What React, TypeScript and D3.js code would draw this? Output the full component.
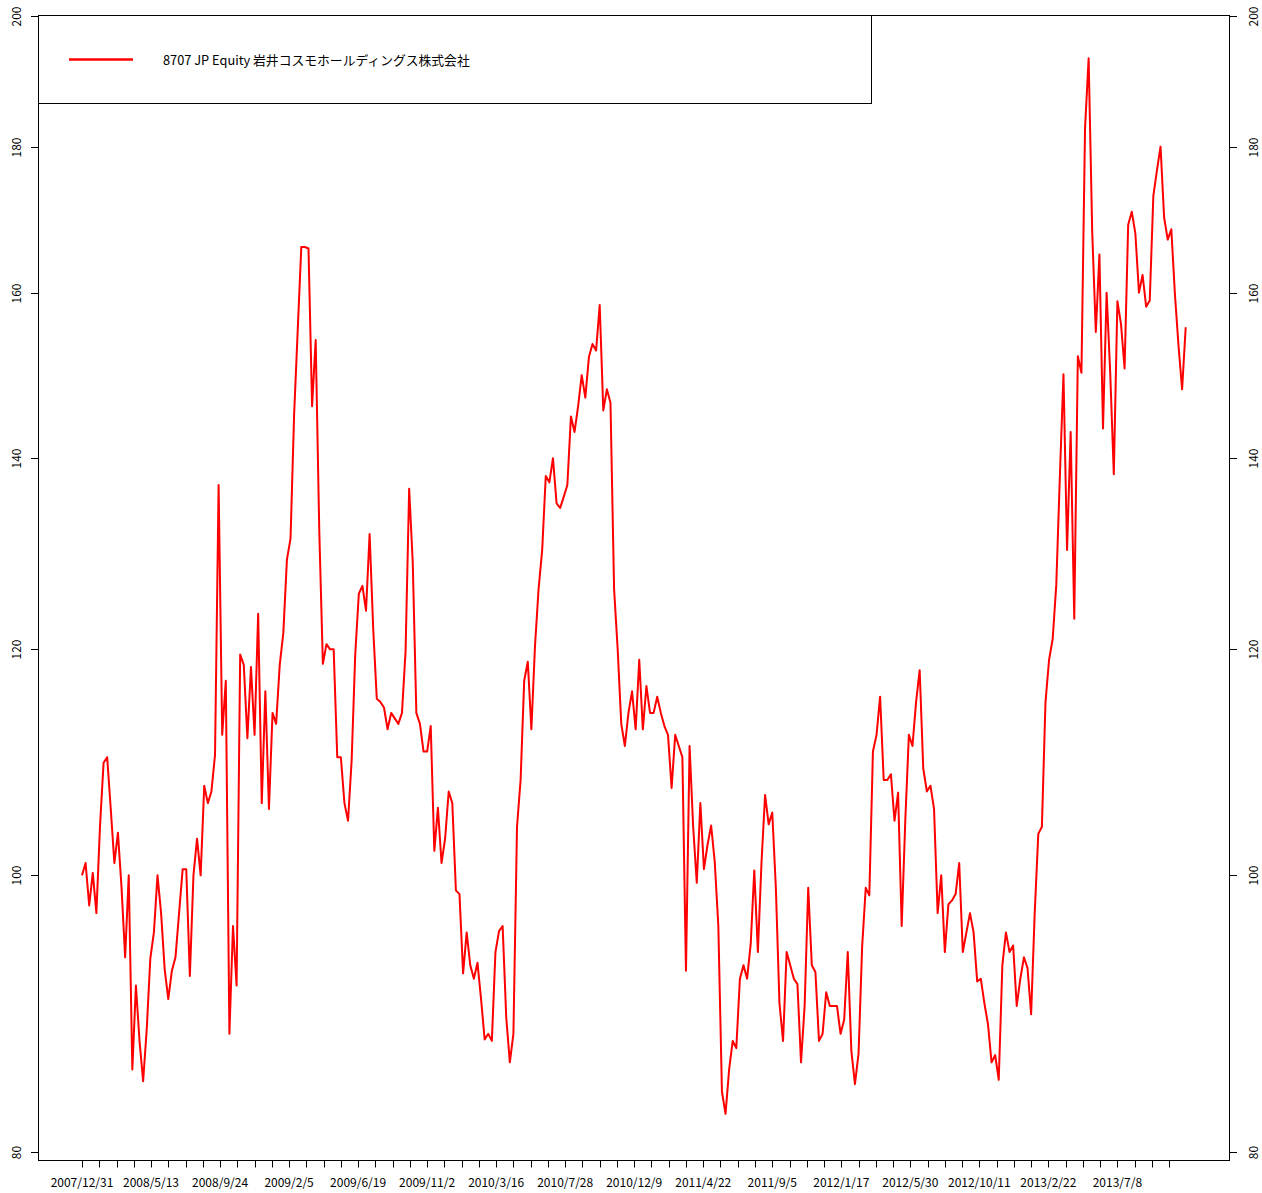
import { scaleLinear, scaleLog, line } from "d3";

// weekly closes (every 5th weekday), indexed from 2007/12/31 = 100
const weeklyClose = [
	100, 101, 97.6, 100.2, 97, 104, 109.5, 110, 105.5, 101,
	103.5, 99, 93.6, 100, 85.5, 91.5, 87.5, 84.7, 88.3, 93.5,
	95.5, 100, 97, 92.7, 90.5, 92.6, 93.6, 97, 100.5, 100.5,
	92.2, 100, 103, 100, 107.5, 106, 107, 110.2, 137, 112,
	117, 88, 96, 91.5, 119.5, 118.5, 111.7, 118.3, 112, 123.5,
	106, 116, 105.5, 114, 113, 118.5, 121.6, 129, 131.2, 145,
	155.2, 166, 166, 165.8, 146, 154, 132, 118.6, 120.5, 120,
	120, 110, 110, 106, 104.5, 109.7, 119.5, 125.5, 126.3, 123.8,
	131.7, 122, 115.3, 115, 114.5, 112.5, 114, 113.5, 113, 114,
	119.8, 136.6, 128.7, 114, 113, 110.5, 110.5, 112.8, 102, 105.6,
	101, 103, 107, 106, 98.8, 98.5, 92.4, 95.5, 93, 92,
	93.2, 90.5, 87.6, 88, 87.5, 94, 95.6, 96, 89.2, 86,
	88, 104, 108, 117, 118.8, 112.5, 120.3, 126, 130, 138,
	137.3, 140, 135, 134.5, 135.7, 137, 144.8, 143, 146, 149.7,
	147, 151.9, 153.5, 152.7, 158.4, 145.5, 148, 146.4, 126, 120,
	113, 111, 114, 116, 112.5, 119, 112.5, 116.5, 114, 114,
	115.5, 114, 112.8, 112, 107.3, 112, 111, 110, 92.6, 111,
	104, 99.4, 106, 100.5, 102.5, 104.1, 101.1, 96, 84, 82.5,
	85.5, 87.5, 87, 92, 93, 92, 94.6, 100.4, 94, 101,
	106.7, 104.2, 105.2, 99, 90.2, 87.5, 94, 93, 92, 91.6,
	86, 90, 99, 93, 92.5, 87.5, 88, 91, 90, 90,
	90, 88, 89, 94, 86.8, 84.5, 86.6, 94.4, 99, 98.4,
	110.5, 112, 115.5, 108, 108, 108.5, 104.5, 106.9, 96, 104.5,
	112, 111, 115, 118, 109, 107, 107.5, 105.5, 97, 100,
	94, 97.7, 98, 98.5, 101, 94, 95.5, 97, 95.5, 91.8,
	92, 90.2, 88.7, 86, 86.5, 84.8, 93, 95.5, 94, 94.5,
	90, 92, 93.6, 92.8, 89.4, 97, 103.4, 104, 115, 119,
	121, 126.4, 138, 149.8, 130, 143, 123, 152, 150, 182.7,
	193.3, 168, 155, 165, 143.4, 160, 150, 138.2, 158.9, 156,
	150.5, 169, 170.8, 167.8, 160, 162.3, 158.2, 159, 173, 176.6,
	180, 170, 167, 168.4, 159.8, 153.3, 148, 155.6,
];
const STEP_DAYS = 5;

const dateLabels = [
	"2007/12/31", "2008/5/13", "2008/9/24", "2009/2/5",
	"2009/6/19", "2009/11/2", "2010/3/16", "2010/7/28",
	"2010/12/9", "2011/4/22", "2011/9/5", "2012/1/17",
	"2012/5/30", "2012/10/11", "2013/2/22", "2013/7/8",
];
const TICK_DAYS = 24;
const TICK_COUNT = 64;
const LABEL_EVERY = 4;

const yTicks = [80, 100, 120, 140, 160, 180, 200];

const seriesName = "8707 JP Equity 岩井コスモホールディングス株式会社";

const W = 1262;
const H = 1193;
const box = { left: 38.5, right: 1229.5, top: 15.5, bottom: 1160.5 };
const font = "'Noto Sans CJK JP', 'Noto Sans', sans-serif";

export default function App() {
	const lastDay = (weeklyClose.length - 1) * STEP_DAYS;
	const x = scaleLinear().domain([0, lastDay]).range([82, 1185.7]);
	const y = scaleLog().domain([80, 200]).range([1152, 16]);

	const path = line<number>()
		.x((_, i) => x(i * STEP_DAYS))
		.y((v) => y(v))(weeklyClose);

	const ticks = Array.from({ length: TICK_COUNT }, (_, k) => k * TICK_DAYS);

	return (
		<svg
			width={W}
			height={H}
			style={{ position: "absolute", left: 0, top: 0, background: "#fff" }}
			fontFamily={font}
		>
			<path d={path ?? ""} fill="none" stroke="#ff0000" strokeWidth={2} strokeLinejoin="round" />

			<rect
				x={box.left}
				y={box.top}
				width={box.right - box.left}
				height={box.bottom - box.top}
				fill="none"
				stroke="#000"
			/>

			{/* bottom axis */}
			{ticks.map((d) => (
				<line key={d} x1={Math.round(x(d)) + 0.5} x2={Math.round(x(d)) + 0.5} y1={box.bottom} y2={box.bottom + 7} stroke="#000" />
			))}
			{dateLabels.map((lab, k) => (
				<text key={lab} x={x(k * LABEL_EVERY * TICK_DAYS)} y={1187} fontSize={12} textAnchor="middle">
					{lab}
				</text>
			))}

			{/* left and right axes */}
			{yTicks.map((v) => {
				const py = Math.round(y(v)) + 0.5;
				return (
					<g key={v}>
						<line x1={31} x2={box.left} y1={py} y2={py} stroke="#000" />
						<line x1={box.right} x2={1237} y1={py} y2={py} stroke="#000" />
						<text transform={`translate(21,${py}) rotate(-90)`} fontSize={12} textAnchor="middle">
							{v}
						</text>
						<text transform={`translate(1258,${py}) rotate(-90)`} fontSize={12} textAnchor="middle">
							{v}
						</text>
					</g>
				);
			})}

			{/* legend */}
			<rect x={38.5} y={15.5} width={833} height={88} fill="#fff" stroke="#000" />
			<line x1={69} x2={133} y1={59.5} y2={59.5} stroke="#ff0000" strokeWidth={2.5} />
			<text x={163} y={65} fontSize={12.8}>
				{seriesName}
			</text>
		</svg>
	);
}
